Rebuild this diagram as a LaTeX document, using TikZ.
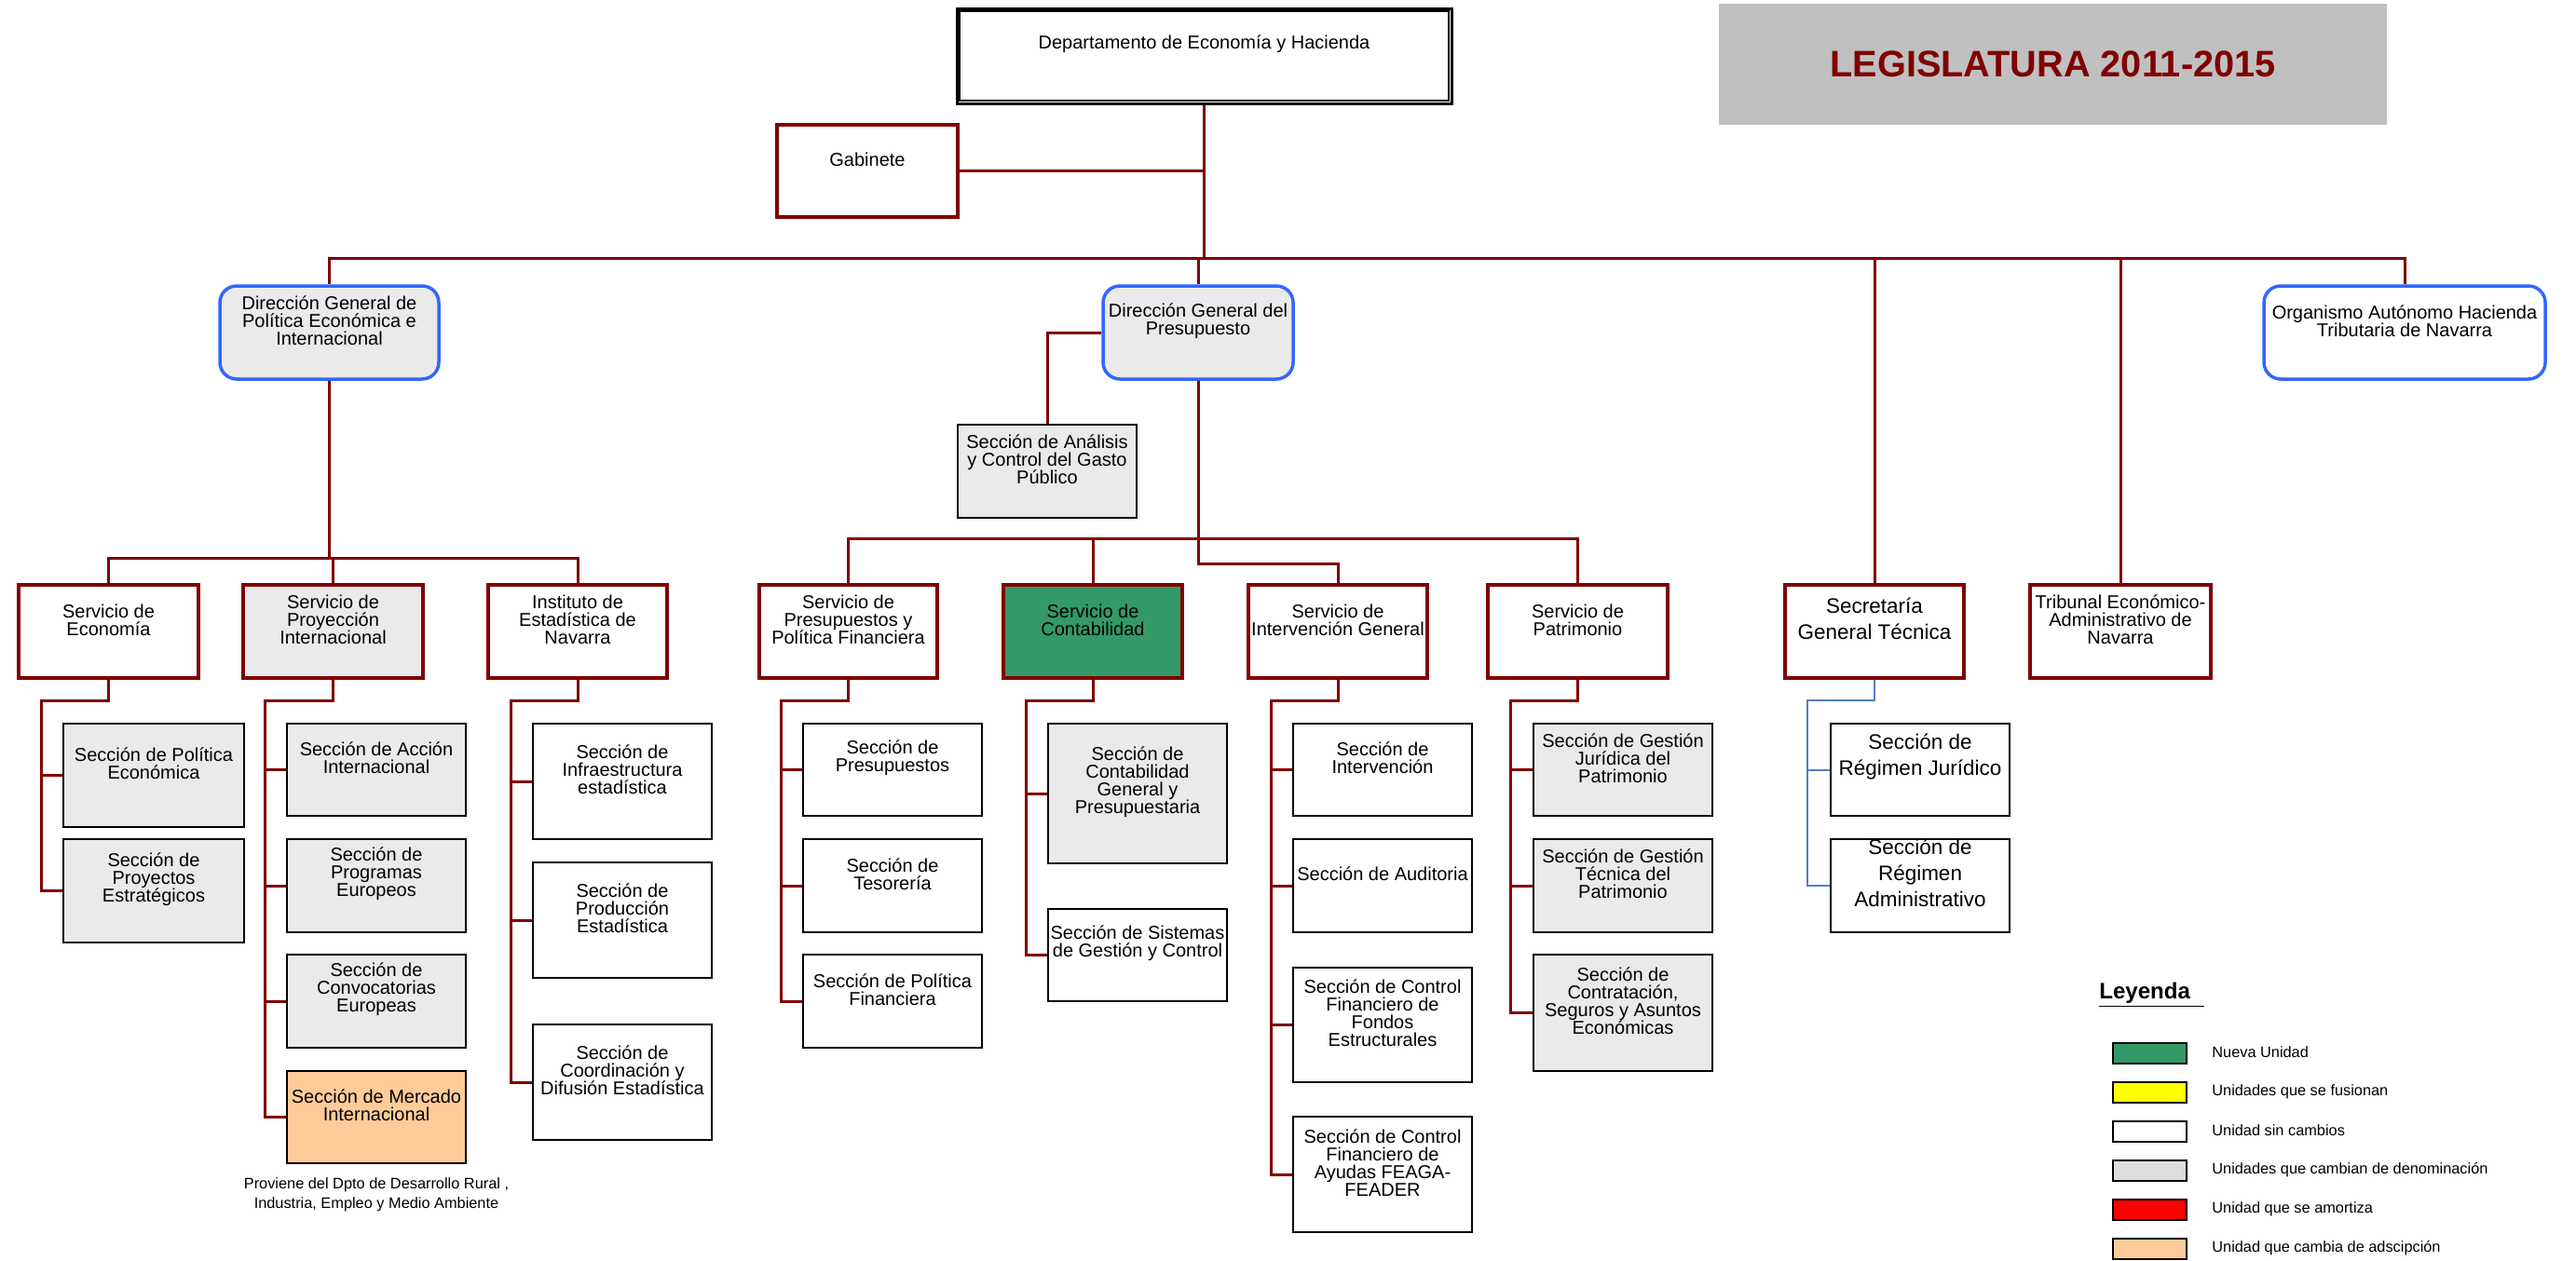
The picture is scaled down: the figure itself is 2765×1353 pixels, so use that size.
\documentclass[tikz,border=0pt]{standalone}
\usepackage{fontspec}
\setmainfont{Liberation Sans}
\usetikzlibrary{positioning}

\definecolor{granate}{HTML}{800000}
\definecolor{azulbor}{HTML}{3366FF}
\definecolor{azulclaro}{HTML}{4F81BD}
\definecolor{grisnodo}{HTML}{EAEAEA}
\definecolor{grisley}{HTML}{DDDDDD}
\definecolor{gristit}{HTML}{C0C0C0}
\definecolor{verde}{HTML}{339966}
\definecolor{naranja}{HTML}{FFCC99}
\definecolor{amarillo}{HTML}{FFFF00}
\definecolor{rojo}{HTML}{FF0000}

\newcommand{\cajafont}{\fontsize{11.38pt}{10.8pt}\selectfont}
\newcommand{\grandefont}{\fontsize{12.8pt}{15.9pt}\selectfont}
\newcommand{\notafont}{\fontsize{9.3pt}{11.9pt}\selectfont}
\newcommand{\leyfont}{\fontsize{13.7pt}{16pt}\selectfont}

% caja de una unidad: nombre, estilo, estilo del texto, x1, y1, x2, y2, texto
\newcommand{\unidad}[8]{%
  \node[#2, minimum width={(#6-#4)*0.02cm}, minimum height={(#7-#5)*0.02cm}] (#1) at ({(#4+#6)/2},{(#5+#7)/2}) {};
  \node[#3] (#1t) at (#1.center) {#8};}

\begin{document}
\begin{tikzpicture}[x=0.02cm, y=-0.02cm,
    linea/.style={draw=granate, line width=0.06cm},
    servicio/.style={draw=granate, line width=0.065cm, fill=white, inner sep=0pt},
    seccion/.style={draw=black, line width=0.045cm, fill=white, inner sep=0pt},
    direccion/.style={draw=azulbor, line width=0.07cm, rounded corners=0.36cm, fill=grisnodo, inner sep=0pt},
    texto/.style={align=center, inner sep=0pt, font=\cajafont, yshift=0.25cm},
    textog/.style={align=center, inner sep=0pt, font=\grandefont, yshift=0.28cm}]
    \useasboundingbox (0,0) rectangle (2765,1353);

    % titulo
    \node[fill=gristit, minimum width=14.34cm, minimum height=2.6cm, inner sep=0pt] (titulo) at (2203.5,69) {};
    \node[font=\fontsize{22.6pt}{27pt}\selectfont\bfseries, text=granate] (titulot) at (titulo.center) {LEGISLATURA 2011-2015};

    % departamento y primer nivel
    \unidad{dept}{draw=black, line width=0.06cm, fill=white, inner sep=0pt}{texto}{1027}{9}{1558}{111}{Departamento de Economía y Hacienda}
    \draw[line width=0.045cm] ([shift={(0.09cm,-0.09cm)}]dept.north west) rectangle ([shift={(-0.09cm,0.09cm)}]dept.south east);
    \unidad{gab}{servicio}{texto}{834}{134}{1028}{233}{Gabinete}
    \unidad{dgpe}{direccion}{texto}{236}{307}{471}{407}{Dirección General de\\Política Económica e\\Internacional}
    \unidad{dgp}{direccion}{texto}{1184}{307}{1388}{407}{Dirección General del\\Presupuesto}
    \unidad{orga}{direccion, fill=white}{texto}{2430}{307}{2732}{407}{Organismo Autónomo Hacienda\\Tributaria de Navarra}
    \unidad{anal}{seccion, fill=grisnodo}{texto}{1028}{456}{1220}{556}{Sección de Análisis\\y Control del Gasto\\Público}

    % servicios
    \unidad{secon}{servicio}{texto}{20}{628}{213}{728}{Servicio de\\Economía}
    \unidad{sproy}{servicio, fill=grisnodo}{texto}{261}{628}{454}{728}{Servicio de\\Proyección\\Internacional}
    \unidad{sinst}{servicio}{texto}{524}{628}{716}{728}{Instituto de\\Estadística de\\Navarra}
    \unidad{spres}{servicio}{texto}{815}{628}{1006}{728}{Servicio de\\Presupuestos y\\Política Financiera}
    \unidad{scont}{servicio, fill=verde}{texto}{1077}{628}{1269}{728}{Servicio de\\Contabilidad}
    \unidad{sint}{servicio}{texto}{1340}{628}{1532}{728}{Servicio de\\Intervención General}
    \unidad{spat}{servicio}{texto}{1597}{628}{1790}{728}{Servicio de\\Patrimonio}
    \unidad{ssgt}{servicio}{textog}{1916}{628}{2108}{728}{Secretaría\\General Técnica}
    \unidad{stri}{servicio}{texto}{2179}{628}{2373}{728}{Tribunal Económico-\\Administrativo de\\Navarra}

    % secciones
    \unidad{pe1}{seccion, fill=grisnodo}{texto}{68}{777}{262}{888}{Sección de Política\\Económica}
    \unidad{pe2}{seccion, fill=grisnodo}{texto}{68}{901}{262}{1012}{Sección de\\Proyectos\\Estratégicos}
    \unidad{pi1}{seccion, fill=grisnodo}{texto}{308}{777}{500}{876}{Sección de Acción\\Internacional}
    \unidad{pi2}{seccion, fill=grisnodo}{texto}{308}{901}{500}{1001}{Sección de\\Programas\\Europeos}
    \unidad{pi3}{seccion, fill=grisnodo}{texto}{308}{1025}{500}{1125}{Sección de\\Convocatorias\\Europeas}
    \unidad{pi4}{seccion, fill=naranja}{texto}{308}{1150}{500}{1249}{Sección de Mercado\\Internacional}
    \unidad{ie1}{seccion}{texto}{572}{777}{764}{901}{Sección de\\Infraestructura\\estadística}
    \unidad{ie2}{seccion}{texto}{572}{926}{764}{1050}{Sección de\\Producción\\Estadística}
    \unidad{ie3}{seccion}{texto}{572}{1100}{764}{1224}{Sección de\\Coordinación y\\Difusión Estadística}
    \unidad{pp1}{seccion}{texto}{862}{777}{1054}{876}{Sección de\\Presupuestos}
    \unidad{pp2}{seccion}{texto}{862}{901}{1054}{1001}{Sección de\\Tesorería}
    \unidad{pp3}{seccion}{texto}{862}{1025}{1054}{1125}{Sección de Política\\Financiera}
    \unidad{ct1}{seccion, fill=grisnodo}{texto}{1125}{777}{1317}{927}{Sección de\\Contabilidad\\General y\\Presupuestaria}
    \unidad{ct2}{seccion}{texto}{1125}{976}{1317}{1075}{Sección de Sistemas\\de Gestión y Control}
    \unidad{ig1}{seccion}{texto}{1388}{777}{1580}{876}{Sección de\\Intervención}
    \unidad{ig2}{seccion}{texto}{1388}{901}{1580}{1001}{Sección de Auditoria}
    \unidad{ig3}{seccion}{texto}{1388}{1039}{1580}{1162}{Sección de Control\\Financiero de\\Fondos\\Estructurales}
    \unidad{ig4}{seccion}{texto}{1388}{1199}{1580}{1323}{Sección de Control\\Financiero de\\Ayudas FEAGA-\\FEADER}
    \unidad{pa1}{seccion, fill=grisnodo}{texto}{1646}{777}{1838}{876}{Sección de Gestión\\Jurídica del\\Patrimonio}
    \unidad{pa2}{seccion, fill=grisnodo}{texto}{1646}{901}{1838}{1001}{Sección de Gestión\\Técnica del\\Patrimonio}
    \unidad{pa3}{seccion, fill=grisnodo}{texto}{1646}{1025}{1838}{1150}{Sección de\\Contratación,\\Seguros y Asuntos\\Económicas}
    \unidad{sg1}{seccion}{textog}{1965}{777}{2157}{876}{Sección de\\Régimen Jurídico}
    \unidad{sg2}{seccion}{textog}{1965}{901}{2157}{1001}{Sección de\\Régimen\\Administrativo}

    \node[font=\notafont, align=center, inner sep=0pt] (nota) at (404,1283) {Proviene del Dpto de Desarrollo Rural ,\\Industria, Empleo y Medio Ambiente};

    % lineas
    \coordinate (bus) at (0,277);
    \draw[linea] (dept.south) -- (dept.south |- bus);
    \draw[linea] (gab.east) -- (gab.east -| dept.south);
    \draw[linea] (dgpe.north) -- (dgpe.north |- bus) -- (orga.north |- bus) -- (orga.north);
    \foreach \n in {dgp, ssgt, stri}
        \draw[linea] (\n.north) -- (\n.north |- bus);
    \draw[linea] (dgp.west) -| (anal.north);

    \coordinate (bpe) at (0,599);
    \draw[linea] (dgpe.south) -- (dgpe.south |- bpe);
    \draw[linea] (secon.north) -- (secon.north |- bpe) -- (sinst.north |- bpe) -- (sinst.north);
    \draw[linea] (sproy.north) -- (sproy.north |- bpe);

    \coordinate (bp) at (0,578);
    \coordinate (bq) at (0,605);
    \draw[linea] (dgp.south) -- (dgp.south |- bq) -| (sint.north);
    \draw[linea] (spres.north) -- (spres.north |- bp) -- (spat.north |- bp) -- (spat.north);
    \draw[linea] (scont.north) -- (scont.north |- bp);

    \coordinate (sub) at (0,752);
    \foreach \s/\kx/\ult/\otros in {secon/44/pe2/{pe1}, sproy/284/pi4/{pi1,pi2,pi3},
            sinst/548/ie3/{ie1,ie2}, spres/838/pp3/{pp1,pp2}, scont/1101/ct2/{ct1},
            sint/1364/ig4/{ig1,ig2,ig3}, spat/1621/pa3/{pa1,pa2}} {
        \coordinate (k\s) at (\kx,752);
        \draw[linea] (\s.south) -- (\s.south |- sub) -- (k\s) |- (\ult.west);
        \foreach \o in \otros
            \draw[linea] (\o.west) -- (\o.west -| k\s);
    }
    \coordinate (kssgt) at (1940,752);
    \draw[azulclaro, line width=0.04cm] (ssgt.south) -- (ssgt.south |- sub) -- (kssgt) |- (sg2.west);
    \draw[azulclaro, line width=0.04cm] (sg1.west) -- (sg1.west -| kssgt);

    % leyenda
    \node[anchor=west, font=\leyfont\bfseries, inner sep=0pt] (leyenda) at (2253,1068) {\underline{Leyenda\hspace*{0.3cm}}};
    \foreach \c/\t [count=\i from 0] in {verde/Nueva Unidad, amarillo/Unidades que se fusionan,
            white/Unidad sin cambios, grisley/Unidades que cambian de denominación,
            rojo/Unidad que se amortiza, naranja/Unidad que cambia de adscipción} {
        \node[draw=black, line width=0.04cm, fill=\c, minimum width=1.58cm, minimum height=0.44cm, inner sep=0pt] (ley\i) at (2307.5,{1131+42*\i}) {};
        \node[anchor=west, font=\notafont, inner sep=0pt] (tley\i) at (2374,{1130+42*\i}) {\t};
    }
\end{tikzpicture}
\end{document}
